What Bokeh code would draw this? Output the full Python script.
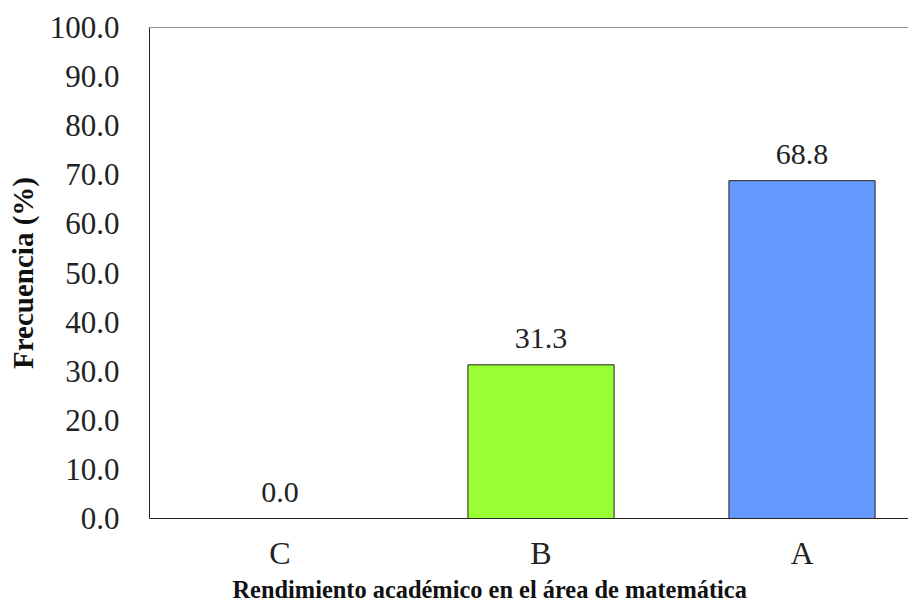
from bokeh.plotting import figure
from bokeh.models import ColumnDataSource, Range1d, FixedTicker, NumeralTickFormatter, Span, Title, LabelSet
from bokeh.core.properties import value
from bokeh.embed import file_html
from bokeh.resources import INLINE

categories = ["C", "B", "A"]
values = [0.0, 31.3, 68.8]
colors = ["#99FF33", "#99FF33", "#6699FF"]
y_ticks = [0, 10, 20, 30, 40, 50, 60, 70, 80, 90, 100]
x_label = "Rendimiento académico en el área de matemática"
y_label = "Frecuencia (%)"

xs = [i + 0.5 for i in range(len(categories))]
labels = ["%.1f" % v for v in values]
src = ColumnDataSource(dict(x=xs, top=values, color=colors, label=labels))

FONT = "Liberation Serif"

p = figure(width=908, height=603, output_backend="svg", toolbar_location=None,
           x_range=Range1d(0, 2.908), y_range=Range1d(0, 100),
           min_border_left=149, min_border_top=27, min_border_bottom=85, min_border_right=0)
p.outline_line_color = None
p.grid.visible = False
p.background_fill_color = "white"
p.border_fill_color = "white"

p.vbar(x="x", top="top", width=0.56, bottom=0, fill_color="color",
       line_color="#222222", line_width=1, source=src)
ls = LabelSet(x="x", y="top", text="label", source=src, text_align="center",
              text_baseline="bottom", y_offset=17, text_font=value(FONT),
              text_font_size=value("30px"), text_color=value("#222222"))
p.add_layout(ls)

p.add_layout(Span(location=100, dimension="width", line_color="#222222", line_width=1))

ya = p.yaxis[0]
ya.ticker = FixedTicker(ticks=y_ticks)
ya.formatter = NumeralTickFormatter(format="0.0")
ya.major_tick_line_color = None
ya.minor_tick_line_color = None
ya.axis_line_color = "#222222"
ya.major_label_text_font = FONT
ya.major_label_text_font_size = "31px"
ya.major_label_text_color = "#222222"
ya.major_label_standoff = 24
ya.axis_label = y_label
ya.axis_label_text_font = FONT
ya.axis_label_text_font_style = "bold"
ya.axis_label_text_font_size = "29px"
ya.axis_label_text_color = "#111111"
ya.axis_label_standoff = 8

xa = p.xaxis[0]
xa.ticker = FixedTicker(ticks=xs)
xa.major_label_overrides = {x: c for x, c in zip(xs, categories)}
xa.major_tick_line_color = None
xa.minor_tick_line_color = None
xa.axis_line_color = "#222222"
xa.major_label_text_font = FONT
xa.major_label_text_font_size = "32px"
xa.major_label_text_color = "#222222"
xa.major_label_standoff = 10

t = Title(text=x_label, align="left", offset=83, standoff=0,
          text_font=FONT, text_font_style="bold", text_font_size="24.4px",
          text_color="#111111")
p.add_layout(t, "below")

open("out.html", "w").write(file_html(p, INLINE))
